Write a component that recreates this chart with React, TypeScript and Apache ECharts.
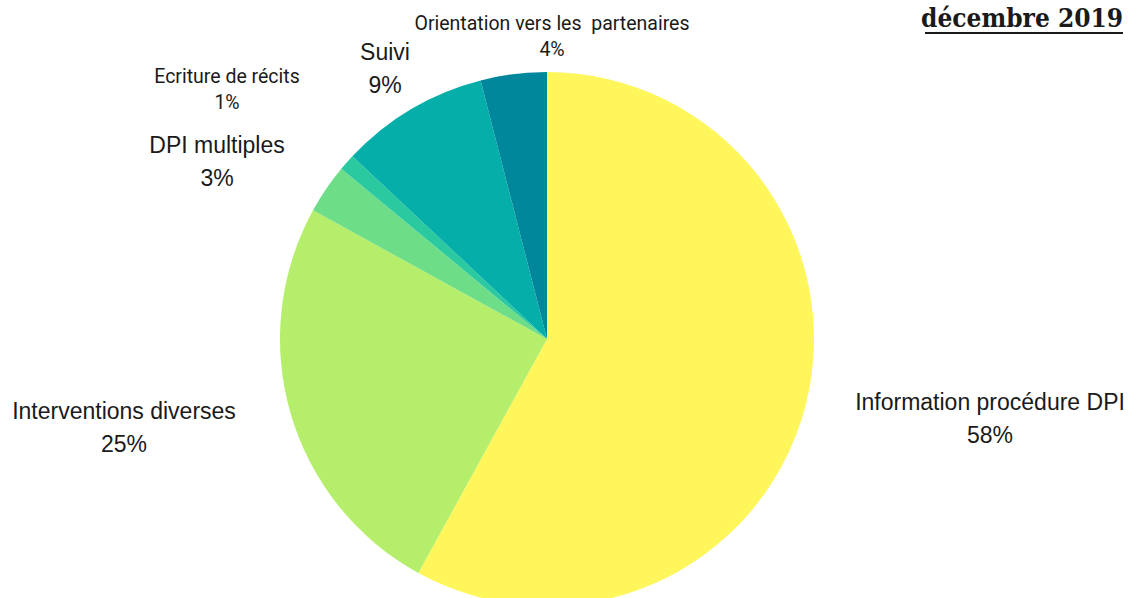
import React, { useEffect, useRef } from "react";
import * as echarts from "echarts";

const categories = [
  "Information procédure DPI",
  "Interventions diverses",
  "DPI multiples",
  "Ecriture de récits",
  "Suivi",
  "Orientation vers les  partenaires",
];
const values = [58, 25, 3, 1, 9, 4];
const colors = ["#FEF65B", "#B4EE6A", "#6EDD88", "#2BC9A0", "#05AEA9", "#00879C"];
const titleText = "décembre 2019";

// label placement (centre of each two-line label) and font settings
const labelPos: [number, number][] = [
  [990, 418],
  [124, 427],
  [217, 161],
  [227, 89],
  [385, 68],
  [552, 36],
];
const labelFont = [
  { family: "Liberation Sans", size: 23, lh: 33 },
  { family: "Liberation Sans", size: 23, lh: 33 },
  { family: "Liberation Sans", size: 23, lh: 33 },
  { family: "Roboto", size: 19.5, lh: 26 },
  { family: "Liberation Sans", size: 23, lh: 33 },
  { family: "Roboto", size: 19.5, lh: 26 },
];

export default function App() {
  const ref = useRef<HTMLDivElement>(null);
  useEffect(() => {
    document.body.style.margin = "0";
    if (!ref.current) return;
    const chart = echarts.init(ref.current, undefined, { renderer: "svg" });
    chart.setOption({
      animation: false,
      backgroundColor: "#ffffff",
      graphic: [
        {
          type: "text",
          x: 1123,
          y: 18,
          style: {
            text: titleText,
            font: "bold 26px 'DejaVu Serif Condensed', 'DejaVu Serif'",
            fill: "#1a1a1a",
            align: "right",
            verticalAlign: "middle",
          },
        },
        {
          type: "line",
          shape: { x1: 925, y1: 33, x2: 1123, y2: 33 },
          style: { stroke: "#1a1a1a", lineWidth: 2 },
        },
      ],
      series: [
        {
          type: "pie",
          center: [547, 339],
          radius: 267,
          startAngle: 90,
          clockwise: true,
          avoidLabelOverlap: false,
          labelLine: { show: false },
          data: categories.map((name, i) => ({
            name,
            value: values[i],
            itemStyle: { color: colors[i] },
            label: {
              show: true,
              position: "outside",
              formatter: "{b}\n{d}%",
              fontFamily: labelFont[i].family,
              fontSize: labelFont[i].size,
              lineHeight: labelFont[i].lh,
              color: "#1a1a1a",
              align: "center",
            },
          })),
          labelLayout: (params: any) => {
            const p = labelPos[params.dataIndex];
            return { x: p[0], y: p[1], align: "center", verticalAlign: "middle" };
          },
        },
      ],
    });
    return () => chart.dispose();
  }, []);
  return <div ref={ref} style={{ width: 1131, height: 598 }} />;
}
